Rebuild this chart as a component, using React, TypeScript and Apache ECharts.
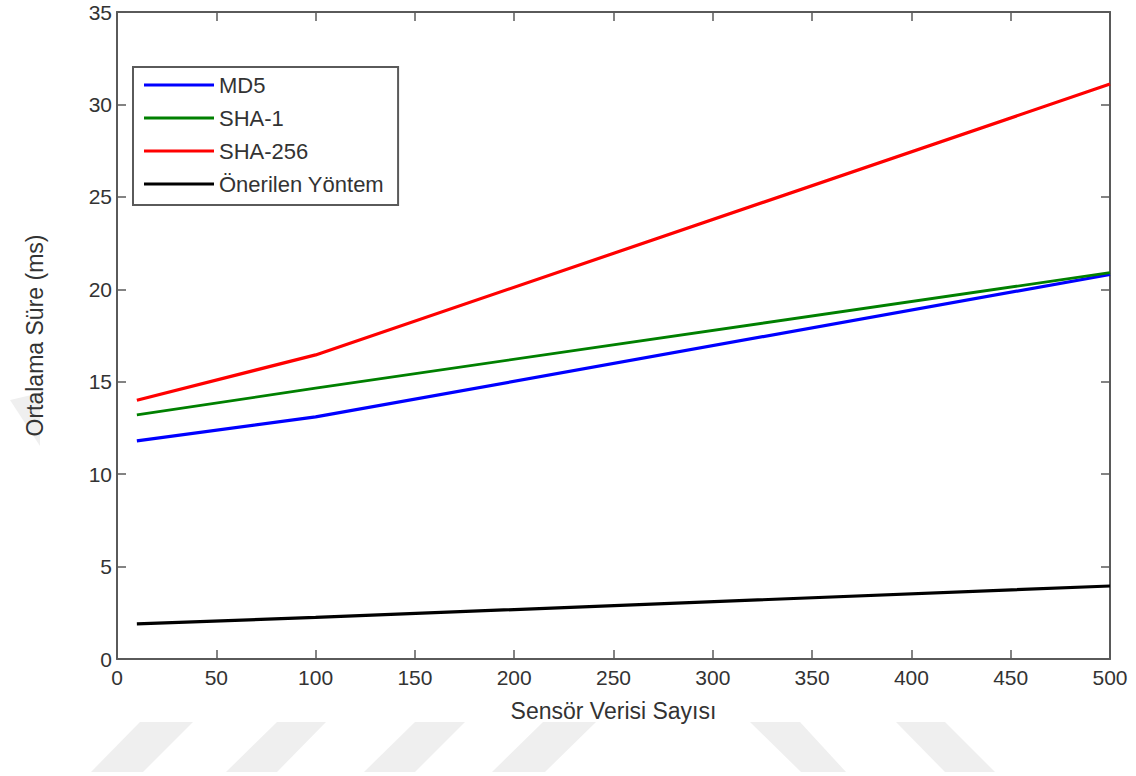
import React, { useEffect, useRef } from "react";
import * as echarts from "echarts";

const sensorCounts = [10, 100, 500];
const md5 = [11.8, 13.1, 20.8];
const sha1 = [13.2, 14.65, 20.9];
const sha256 = [14.0, 16.45, 31.1];
const proposed = [1.9, 2.25, 3.95];

const seriesNames = ["MD5", "SHA-1", "SHA-256", "Önerilen Yöntem"];
const seriesColors = ["#0000ff", "#008000", "#ff0000", "#000000"];
const seriesData = [md5, sha1, sha256, proposed];

const xName = "Sensör Verisi Sayısı";
const yName = "Ortalama Süre (ms)";

const FONT = "'Liberation Sans', Arial, sans-serif";
const AXIS_COLOR = "#5a5a5a";
const TEXT_COLOR = "#333333";

const stripes: number[][][] = [
  [[140, 722], [193, 722], [143, 772], [91, 772]],
  [[277, 722], [326, 722], [277, 772], [226, 772]],
  [[415, 722], [465, 722], [415, 772], [364, 772]],
  [[543, 722], [596, 722], [545, 772], [492, 772]],
  [[750, 722], [800, 722], [846, 772], [801, 772]],
  [[896, 722], [945, 722], [995, 772], [945, 772]],
  [[10, 400], [40, 393], [40, 446]],
];

export default function App() {
  const ref = useRef<HTMLDivElement>(null);
  useEffect(() => {
    if (!ref.current) return;
    const chart = echarts.init(ref.current, null, { renderer: "svg" });
    const axisCommon = {
      axisLine: { show: true, onZero: false, lineStyle: { color: AXIS_COLOR, width: 2 } },
      axisTick: { show: true, inside: true, length: 9, lineStyle: { color: AXIS_COLOR, width: 1.5 } },
      splitLine: { show: false },
    };
    chart.setOption({
      animation: false,
      backgroundColor: "#ffffff",
      grid: { left: 117, right: 26, top: 12, bottom: 117, containLabel: false },
      graphic: stripes.map((pts) => ({
        type: "polygon",
        z: -10,
        silent: true,
        shape: { points: pts },
        style: { fill: "#efefef" },
      })),
      legend: {
        orient: "vertical",
        left: 133,
        top: 67,
        itemWidth: 70,
        itemHeight: 3,
        itemGap: 11,
        icon: "rect",
        padding: [7, 14, 10, 11],
        borderColor: AXIS_COLOR,
        borderWidth: 2,
        backgroundColor: "#ffffff",
        textStyle: { fontFamily: FONT, fontSize: 22, color: TEXT_COLOR, lineHeight: 22 },
        data: seriesNames,
      },
      xAxis: [
        {
          type: "value",
          min: 0,
          max: 500,
          interval: 50,
          position: "bottom",
          name: xName,
          nameLocation: "middle",
          nameGap: 40,
          nameTextStyle: { fontFamily: FONT, fontSize: 23, color: TEXT_COLOR },
          axisLabel: { fontFamily: FONT, fontSize: 21, color: TEXT_COLOR, margin: 8 },
          ...axisCommon,
        },
        {
          type: "value",
          min: 0,
          max: 500,
          interval: 50,
          position: "top",
          axisLabel: { show: false },
          ...axisCommon,
        },
      ],
      yAxis: [
        {
          type: "value",
          min: 0,
          max: 35,
          interval: 5,
          position: "left",
          name: yName,
          nameLocation: "middle",
          nameGap: 71,
          nameTextStyle: { fontFamily: FONT, fontSize: 23, color: TEXT_COLOR },
          axisLabel: { fontFamily: FONT, fontSize: 21, color: TEXT_COLOR, margin: 5 },
          ...axisCommon,
        },
        {
          type: "value",
          min: 0,
          max: 35,
          interval: 5,
          position: "right",
          axisLabel: { show: false },
          ...axisCommon,
        },
      ],
      series: seriesNames.map((name, i) => ({
        name,
        type: "line",
        xAxisIndex: 0,
        yAxisIndex: 0,
        showSymbol: false,
        symbol: "none",
        color: seriesColors[i],
        itemStyle: { color: seriesColors[i] },
        lineStyle: { color: seriesColors[i], width: i === 1 ? 2.8 : 3.2 },
        data: sensorCounts.map((x, j) => [x, seriesData[i][j]]),
      })),
    });
    return () => chart.dispose();
  }, []);
  return <div ref={ref} style={{ width: 1136, height: 776, position: "absolute", left: 0, top: 0 }} />;
}
